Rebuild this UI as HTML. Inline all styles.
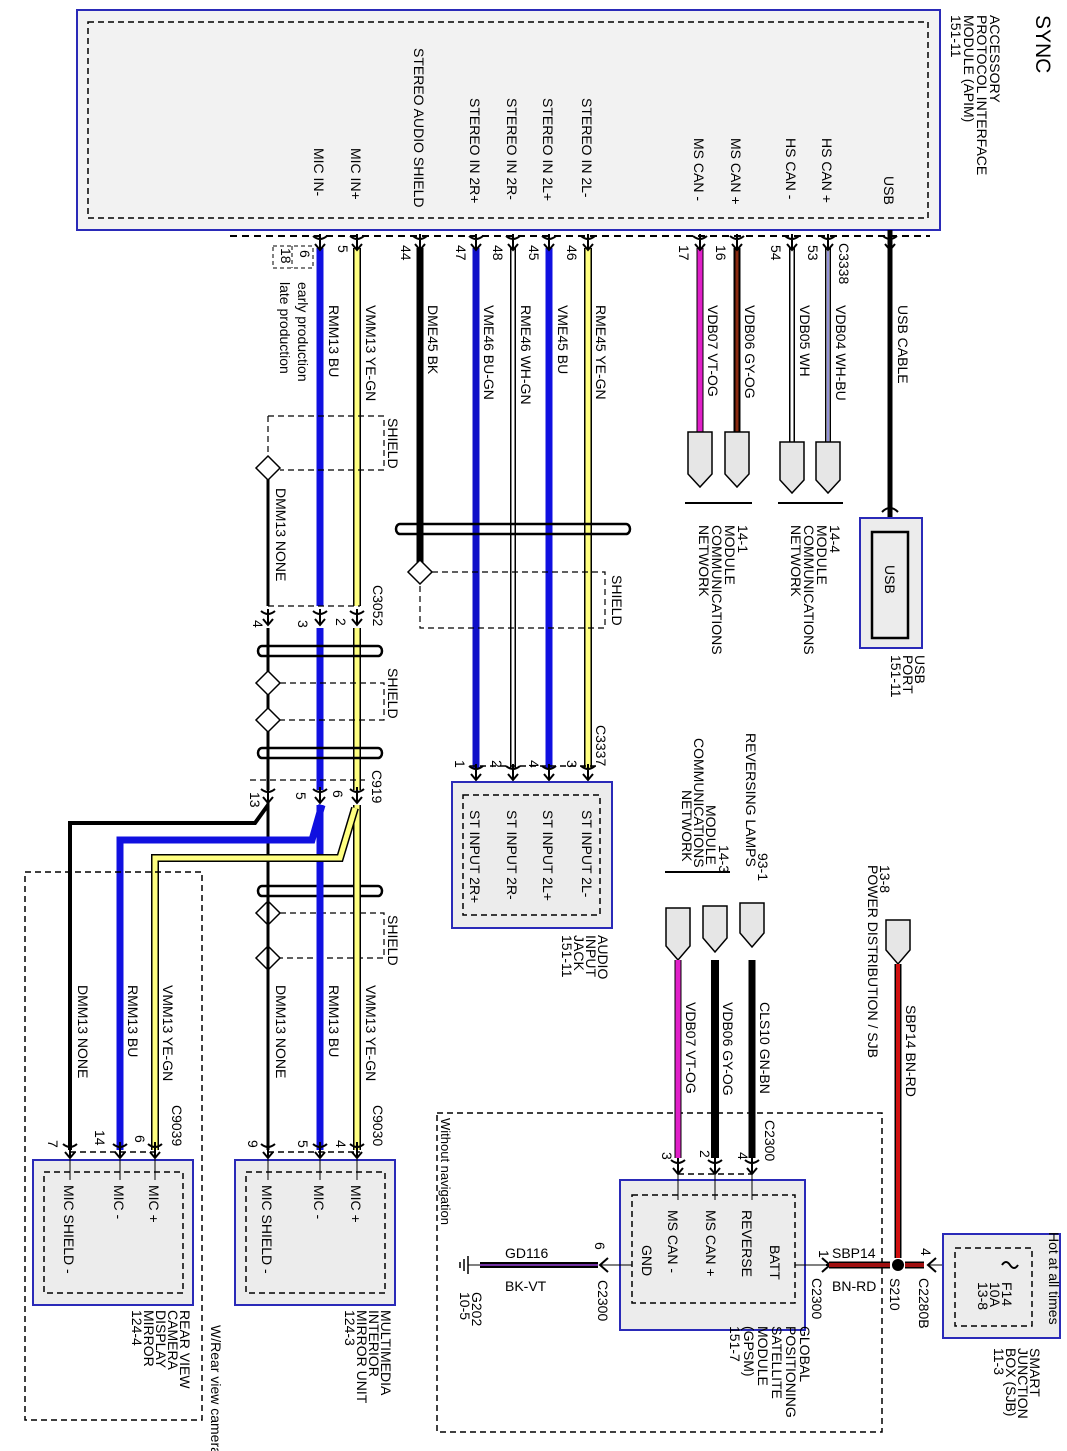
<!DOCTYPE html>
<html><head><meta charset="utf-8"><style>html,body{margin:0;padding:0;background:#fff}svg{display:block}</style></head><body>
<svg width="1067" height="1451" viewBox="0 0 1067 1451" xmlns="http://www.w3.org/2000/svg" font-family="Liberation Sans, sans-serif" font-size="14" fill="#000">
<defs>
<path id="fk" d="M-7,-6 Q0,0 7,-6 M0,-8 L0,8 M-5,2 L0,8 L5,2" fill="none" stroke="#000" stroke-width="2"/>
</defs>
<!-- APIM -->
<rect x="77" y="10" width="863" height="220" fill="#f2f2f2" stroke="#2a2ab8" stroke-width="2"/>
<rect x="88" y="22" width="840" height="196" fill="none" stroke="#000" stroke-width="1.5" stroke-dasharray="6,4"/>
<text font-size="21" transform="translate(1036,15) rotate(90)">SYNC</text>
<g font-size="14">
<text transform="translate(990,15) rotate(90)">ACCESSORY</text>
<text transform="translate(977,15) rotate(90)">PROTOCOL INTERFACE</text>
<text transform="translate(964,15) rotate(90)">MODULE (APIM)</text>
<text transform="translate(951,15) rotate(90)">151-11</text>
<text transform="translate(884,176) rotate(90)">USB</text>
<text transform="translate(822,138) rotate(90)">HS CAN +</text>
<text transform="translate(786,138) rotate(90)">HS CAN -</text>
<text transform="translate(731,138) rotate(90)">MS CAN +</text>
<text transform="translate(694,138) rotate(90)">MS CAN -</text>
<text transform="translate(582,98) rotate(90)">STEREO IN 2L-</text>
<text transform="translate(543,98) rotate(90)">STEREO IN 2L+</text>
<text transform="translate(507,98) rotate(90)">STEREO IN 2R-</text>
<text transform="translate(470,98) rotate(90)">STEREO IN 2R+</text>
<text transform="translate(414,48) rotate(90)">STEREO AUDIO SHIELD</text>
<text transform="translate(351,148) rotate(90)">MIC IN+</text>
<text transform="translate(314,148) rotate(90)">MIC IN-</text>
</g>
<line x1="230" y1="236" x2="930" y2="236" stroke="#000" stroke-width="2" stroke-dasharray="7,5"/>
<!-- wires top -->
<g fill="none">
<line x1="890" y1="230" x2="890" y2="518" stroke="#000" stroke-width="5"/>
<line x1="828" y1="248" x2="828" y2="442" stroke="#000" stroke-width="6"/><line x1="828" y1="248" x2="828" y2="442" stroke="#fff" stroke-width="3"/><line x1="828" y1="248" x2="828" y2="442" stroke="#2a2ab8" stroke-width="1"/>
<line x1="792" y1="248" x2="792" y2="442" stroke="#000" stroke-width="6"/><line x1="792" y1="248" x2="792" y2="442" stroke="#fff" stroke-width="3"/>
<line x1="737" y1="248" x2="737" y2="432" stroke="#000" stroke-width="7"/><line x1="737" y1="248" x2="737" y2="432" stroke="#8a2a10" stroke-width="3"/>
<line x1="700" y1="248" x2="700" y2="432" stroke="#000" stroke-width="7"/><line x1="700" y1="248" x2="700" y2="432" stroke="#e020c8" stroke-width="5"/>
<line x1="588" y1="248" x2="588" y2="768" stroke="#000" stroke-width="8"/><line x1="588" y1="248" x2="588" y2="768" stroke="#ffff80" stroke-width="5"/>
<line x1="549" y1="248" x2="549" y2="768" stroke="#1010e0" stroke-width="7"/>
<line x1="513" y1="248" x2="513" y2="768" stroke="#000" stroke-width="6"/><line x1="513" y1="248" x2="513" y2="768" stroke="#fff" stroke-width="3"/>
<line x1="476" y1="248" x2="476" y2="768" stroke="#1010c8" stroke-width="7"/>
<line x1="420" y1="248" x2="420" y2="566" stroke="#000" stroke-width="7"/>
<line x1="357" y1="248" x2="357" y2="606" stroke="#000" stroke-width="8"/><line x1="357" y1="248" x2="357" y2="606" stroke="#ffff80" stroke-width="5"/>
<line x1="320" y1="248" x2="320" y2="606" stroke="#1010e0" stroke-width="7"/>
<line x1="357" y1="628" x2="357" y2="790" stroke="#000" stroke-width="8"/><line x1="357" y1="628" x2="357" y2="790" stroke="#ffff80" stroke-width="5"/>
<line x1="320" y1="628" x2="320" y2="790" stroke="#1010e0" stroke-width="7"/>
<line x1="268" y1="474" x2="268" y2="606" stroke="#000" stroke-width="3"/>
<line x1="268" y1="628" x2="268" y2="790" stroke="#000" stroke-width="3"/>
</g>
<g>
<use href="#fk" x="890" y="242"/><use href="#fk" x="828" y="242"/><use href="#fk" x="792" y="242"/><use href="#fk" x="737" y="242"/><use href="#fk" x="700" y="242"/>
<use href="#fk" x="588" y="242"/><use href="#fk" x="549" y="242"/><use href="#fk" x="513" y="242"/><use href="#fk" x="476" y="242"/><use href="#fk" x="420" y="242"/><use href="#fk" x="357" y="242"/><use href="#fk" x="320" y="242"/>
</g>
<g font-size="14">
<text transform="translate(839,243) rotate(90)">C3338</text>
<text transform="translate(808,245) rotate(90)">53</text>
<text transform="translate(771,245) rotate(90)">54</text>
<text transform="translate(716,245) rotate(90)">16</text>
<text transform="translate(679,245) rotate(90)">17</text>
<text transform="translate(567,245) rotate(90)">46</text>
<text transform="translate(529,245) rotate(90)">45</text>
<text transform="translate(493,245) rotate(90)">48</text>
<text transform="translate(456,245) rotate(90)">47</text>
<text transform="translate(401,245) rotate(90)">44</text>
<text transform="translate(338,245) rotate(90)">5</text>
<text transform="translate(300,250) rotate(90)">6</text>
<text transform="translate(281,248) rotate(90)">18</text>
<text transform="translate(898,305) rotate(90)">USB CABLE</text>
<text transform="translate(836,305) rotate(90)">VDB04 WH-BU</text>
<text transform="translate(800,305) rotate(90)">VDB05 WH</text>
<text transform="translate(745,305) rotate(90)">VDB06 GY-OG</text>
<text transform="translate(708,305) rotate(90)">VDB07 VT-OG</text>
<text transform="translate(596,305) rotate(90)">RME45 YE-GN</text>
<text transform="translate(558,305) rotate(90)">VME45 BU</text>
<text transform="translate(521,305) rotate(90)">RME46 WH-GN</text>
<text transform="translate(484,305) rotate(90)">VME46 BU-GN</text>
<text transform="translate(428,305) rotate(90)">DME45 BK</text>
<text transform="translate(366,305) rotate(90)">VMM13 YE-GN</text>
<text transform="translate(329,305) rotate(90)">RMM13 BU</text>
<text transform="translate(298,282) rotate(90)">early production</text>
<text transform="translate(280,282) rotate(90)">late production</text>
</g>
<rect x="273" y="246" width="40" height="22" fill="none" stroke="#000" stroke-dasharray="4,3"/>
<line x1="292" y1="246" x2="292" y2="268" stroke="#000" stroke-dasharray="4,3"/>
<!-- network connectors -->
<g fill="#e6e6e6" stroke="#000" stroke-width="1.5">
<path d="M816,442 h24 v38 l-12,13 l-12,-13z"/><path d="M780,442 h24 v38 l-12,13 l-12,-13z"/>
<path d="M725,432 h24 v42 l-12,13 l-12,-13z"/><path d="M688,432 h24 v42 l-12,13 l-12,-13z"/>
</g>
<line x1="778" y1="503" x2="843" y2="503" stroke="#000" stroke-width="2"/>
<line x1="685" y1="503" x2="752" y2="503" stroke="#000" stroke-width="2"/>
<g font-size="14">
<text transform="translate(830,525) rotate(90)">14-4</text>
<text transform="translate(817,525) rotate(90)">MODULE</text>
<text transform="translate(804,525) rotate(90)">COMMUNICATIONS</text>
<text transform="translate(791,525) rotate(90)">NETWORK</text>
<text transform="translate(738,525) rotate(90)">14-1</text>
<text transform="translate(725,525) rotate(90)">MODULE</text>
<text transform="translate(712,525) rotate(90)">COMMUNICATIONS</text>
<text transform="translate(699,525) rotate(90)">NETWORK</text>
</g>
<!-- USB port -->
<rect x="860" y="518" width="62" height="130" fill="#ececec" stroke="#2a2ab8" stroke-width="2"/>
<rect x="872" y="532" width="36" height="106" fill="none" stroke="#000" stroke-width="2.5"/>
<path d="M882,512 Q890,504 898,512" fill="none" stroke="#000" stroke-width="2"/>
<text transform="translate(885,565) rotate(90)">USB</text>
<text transform="translate(915,655) rotate(90)">USB</text>
<text transform="translate(903,655) rotate(90)">PORT</text>
<text transform="translate(891,655) rotate(90)">151-11</text>
<!-- twist bands -->
<g fill="none" stroke="#000" stroke-width="2.5">
<path d="M400,524 h226 a4,5 0 0 1 0,10 h-226 a4,5 0 0 1 0,-10z"/>
<path d="M262,646 h116 a4,5 0 0 1 0,10 h-116 a4,5 0 0 1 0,-10z"/>
<path d="M262,748 h116 a4,5 0 0 1 0,10 h-116 a4,5 0 0 1 0,-10z"/>
<path d="M262,886 h116 a4,5 0 0 1 0,10 h-116 a4,5 0 0 1 0,-10z"/>
</g>
<!-- shields -->
<g fill="#fff" stroke="#000" stroke-width="1.5">
<path d="M420,560 l12,12 l-12,12 l-12,-12z"/>
<path d="M268,456 l12,12 l-12,12 l-12,-12z"/>
<path d="M268,671 l12,12 l-12,12 l-12,-12z"/>
<path d="M268,708 l12,12 l-12,12 l-12,-12z"/>
<path d="M268,901 l12,12 l-12,12 l-12,-12z"/>
<path d="M268,946 l12,12 l-12,12 l-12,-12z"/>
</g>
<g fill="none" stroke="#000" stroke-width="1.2" stroke-dasharray="6,4">
<path d="M432,572 H605 V628 H420 V584"/>
<path d="M268,416 H384 V470 H280"/><path d="M268,416 V456"/>
<path d="M280,683 H384 V720 H280"/><path d="M268,695 V708"/>
<path d="M280,913 H384 V958 H280"/><path d="M268,925 V946"/>
<line x1="268" y1="606" x2="360" y2="606"/>
<line x1="250" y1="780" x2="365" y2="780"/>
</g>
<g font-size="14">
<text transform="translate(612,575) rotate(90)">SHIELD</text>
<text transform="translate(388,418) rotate(90)">SHIELD</text>
<text transform="translate(388,668) rotate(90)">SHIELD</text>
<text transform="translate(388,915) rotate(90)">SHIELD</text>
<text transform="translate(276,488) rotate(90)">DMM13   NONE</text>
<text transform="translate(373,585) rotate(90)">C3052</text>
<text transform="translate(253,620) rotate(90)">4</text>
<text transform="translate(298,620) rotate(90)">3</text>
<text transform="translate(336,618) rotate(90)">2</text>
<text transform="translate(372,770) rotate(90)">C919</text>
<text transform="translate(250,792) rotate(90)">13</text>
<text transform="translate(296,792) rotate(90)">5</text>
<text transform="translate(333,790) rotate(90)">6</text>
</g>
<use href="#fk" x="268" y="617"/><use href="#fk" x="320" y="617"/><use href="#fk" x="357" y="617"/>
<use href="#fk" x="268" y="795"/><use href="#fk" x="320" y="795"/><use href="#fk" x="357" y="795"/>
<!-- stereo to audio jack -->
<g font-size="14">
<text transform="translate(596,725) rotate(90)">C3337</text>
<text transform="translate(567,760) rotate(90)">3</text>
<text transform="translate(529,760) rotate(90)">4</text>
<text transform="translate(492,760) rotate(90)">2</text>
<text transform="translate(455,760) rotate(90)">1</text>
</g>
<line x1="470" y1="766" x2="600" y2="766" stroke="#000" stroke-width="1.5" stroke-dasharray="6,4"/>
<use href="#fk" x="588" y="772"/><use href="#fk" x="549" y="772"/><use href="#fk" x="513" y="772"/><use href="#fk" x="476" y="772"/>
<rect x="452" y="782" width="160" height="146" fill="#ececec" stroke="#2a2ab8" stroke-width="2"/>
<rect x="463" y="795" width="137" height="120" fill="none" stroke="#000" stroke-width="1.5" stroke-dasharray="6,4"/>
<g font-size="14">
<text transform="translate(582,810) rotate(90)">ST INPUT 2L-</text>
<text transform="translate(543,810) rotate(90)">ST INPUT 2L+</text>
<text transform="translate(507,810) rotate(90)">ST INPUT 2R-</text>
<text transform="translate(470,810) rotate(90)">ST INPUT 2R+</text>
<text transform="translate(598,935) rotate(90)">AUDIO</text>
<text transform="translate(586,935) rotate(90)">INPUT</text>
<text transform="translate(574,935) rotate(90)">JACK</text>
<text transform="translate(562,935) rotate(90)">151-11</text>
</g>
<!-- after C919 -->
<g fill="none" stroke-linejoin="miter">
<path d="M268,802 V1150" stroke="#000" stroke-width="3"/>
<path d="M268,805 L255,823 H70 V1150" stroke="#000" stroke-width="4"/>
<path d="M320,805 V1150" stroke="#1010e0" stroke-width="7"/>
<path d="M322,805 L312,840 H120 V1150" stroke="#1010e0" stroke-width="7"/>
<path d="M357,805 V1150" stroke="#000" stroke-width="8"/><path d="M357,805 V1150" stroke="#ffff80" stroke-width="5"/>
<path d="M355,808 L340,858 H155 V1150" stroke="#000" stroke-width="8"/><path d="M355,808 L340,858 H155 V1150" stroke="#ffff80" stroke-width="5"/>
</g>
<g font-size="14">
<text transform="translate(366,985) rotate(90)">VMM13   YE-GN</text>
<text transform="translate(329,985) rotate(90)">RMM13   BU</text>
<text transform="translate(276,985) rotate(90)">DMM13   NONE</text>
<text transform="translate(373,1105) rotate(90)">C9030</text>
<text transform="translate(336,1140) rotate(90)">4</text>
<text transform="translate(298,1140) rotate(90)">5</text>
<text transform="translate(248,1140) rotate(90)">9</text>
<text transform="translate(163,985) rotate(90)">VMM13   YE-GN</text>
<text transform="translate(128,985) rotate(90)">RMM13   BU</text>
<text transform="translate(78,985) rotate(90)">DMM13   NONE</text>
<text transform="translate(172,1105) rotate(90)">C9039</text>
<text transform="translate(135,1135) rotate(90)">6</text>
<text transform="translate(95,1130) rotate(90)">14</text>
<text transform="translate(48,1140) rotate(90)">7</text>
</g>
<g fill="none" stroke="#000" stroke-width="1.5" stroke-dasharray="6,4">
<line x1="268" y1="1152" x2="360" y2="1152"/><line x1="70" y1="1152" x2="158" y2="1152"/>
<rect x="25" y="872" width="177" height="548"/>
</g>
<use href="#fk" x="268" y="1150"/><use href="#fk" x="320" y="1150"/><use href="#fk" x="357" y="1150"/>
<use href="#fk" x="70" y="1150"/><use href="#fk" x="120" y="1150"/><use href="#fk" x="155" y="1150"/>
<rect x="235" y="1160" width="160" height="145" fill="#ececec" stroke="#2a2ab8" stroke-width="2"/>
<rect x="246" y="1172" width="139" height="121" fill="none" stroke="#000" stroke-width="1.5" stroke-dasharray="6,4"/>
<rect x="33" y="1160" width="160" height="145" fill="#ececec" stroke="#2a2ab8" stroke-width="2"/>
<rect x="44" y="1172" width="139" height="121" fill="none" stroke="#000" stroke-width="1.5" stroke-dasharray="6,4"/>
<g stroke="#000" stroke-width="1"><line x1="268" y1="1158" x2="268" y2="1180"/><line x1="320" y1="1158" x2="320" y2="1180"/><line x1="357" y1="1158" x2="357" y2="1180"/><line x1="70" y1="1158" x2="70" y2="1180"/><line x1="120" y1="1158" x2="120" y2="1180"/><line x1="155" y1="1158" x2="155" y2="1180"/></g>
<g font-size="14">
<text transform="translate(351,1185) rotate(90)">MIC +</text>
<text transform="translate(314,1185) rotate(90)">MIC -</text>
<text transform="translate(262,1185) rotate(90)">MIC SHIELD -</text>
<text transform="translate(149,1185) rotate(90)">MIC +</text>
<text transform="translate(114,1185) rotate(90)">MIC -</text>
<text transform="translate(64,1185) rotate(90)">MIC SHIELD -</text>
<text transform="translate(381,1310) rotate(90)">MULTIMEDIA</text>
<text transform="translate(369,1310) rotate(90)">INTERIOR</text>
<text transform="translate(357,1310) rotate(90)">MIRROR UNIT</text>
<text transform="translate(345,1310) rotate(90)">124-3</text>
<text transform="translate(180,1310) rotate(90)">REAR VIEW</text>
<text transform="translate(168,1310) rotate(90)">CAMERA</text>
<text transform="translate(156,1310) rotate(90)">DISPLAY</text>
<text transform="translate(144,1310) rotate(90)">MIRROR</text>
<text transform="translate(132,1310) rotate(90)">124-4</text>
<text transform="translate(211,1325) rotate(90)">W/Rear view camera</text>
</g>
<!-- GPSM area -->
<rect x="437" y="1113" width="445" height="319" fill="none" stroke="#000" stroke-width="1.5" stroke-dasharray="6,4"/>
<text transform="translate(441,1118) rotate(90)" font-size="13">Without navigation</text>
<g fill="#e6e6e6" stroke="#000" stroke-width="1.5">
<path d="M740,903 h24 v30 l-12,14 l-12,-14z"/>
<path d="M703,906 h24 v32 l-12,14 l-12,-14z"/>
<path d="M666,908 h24 v38 l-12,14 l-12,-14z"/>
<path d="M886,920 h24 v30 l-12,14 l-12,-14z"/>
</g>
<line x1="665" y1="872" x2="730" y2="872" stroke="#000" stroke-width="2"/>
<g font-size="14">
<text transform="translate(758,853) rotate(90)">93-1</text>
<text transform="translate(746,733) rotate(90)">REVERSING LAMPS</text>
<text transform="translate(719,845) rotate(90)">14-3</text>
<text transform="translate(706,805) rotate(90)">MODULE</text>
<text transform="translate(694,738) rotate(90)">COMMUNICATIONS</text>
<text transform="translate(682,790) rotate(90)">NETWORK</text>
<text transform="translate(880,865) rotate(90)">13-8</text>
<text transform="translate(868,865) rotate(90)">POWER DISTRIBUTION / SJB</text>
</g>
<g fill="none">
<line x1="752" y1="960" x2="752" y2="1158" stroke="#000" stroke-width="7"/>
<line x1="715" y1="960" x2="715" y2="1158" stroke="#000" stroke-width="8"/>
<line x1="678" y1="960" x2="678" y2="1158" stroke="#000" stroke-width="7"/><line x1="678" y1="960" x2="678" y2="1158" stroke="#e020c8" stroke-width="5"/>
<line x1="898" y1="964" x2="898" y2="1258" stroke="#000" stroke-width="7"/><line x1="898" y1="964" x2="898" y2="1258" stroke="#d01010" stroke-width="4"/>
</g>
<g font-size="14">
<text transform="translate(760,1002) rotate(90)">CLS10  GN-BN</text>
<text transform="translate(723,1002) rotate(90)">VDB06  GY-OG</text>
<text transform="translate(686,1002) rotate(90)">VDB07  VT-OG</text>
<text transform="translate(906,1005) rotate(90)">SBP14  BN-RD</text>
<text transform="translate(765,1120) rotate(90)">C2300</text>
<text transform="translate(738,1152) rotate(90)">4</text>
<text transform="translate(700,1150) rotate(90)">2</text>
<text transform="translate(662,1152) rotate(90)">3</text>
</g>
<line x1="678" y1="1174" x2="752" y2="1174" stroke="#000" stroke-width="1.5" stroke-dasharray="6,4"/>
<use href="#fk" x="752" y="1166"/><use href="#fk" x="715" y="1166"/><use href="#fk" x="678" y="1166"/>
<rect x="620" y="1180" width="185" height="150" fill="#ececec" stroke="#2a2ab8" stroke-width="2"/>
<rect x="632" y="1195" width="163" height="108" fill="none" stroke="#000" stroke-width="1.5" stroke-dasharray="6,4"/>
<g stroke="#000" stroke-width="1"><line x1="752" y1="1174" x2="752" y2="1200"/><line x1="715" y1="1174" x2="715" y2="1200"/><line x1="678" y1="1174" x2="678" y2="1200"/></g>
<g font-size="14">
<text transform="translate(770,1245) rotate(90)">BATT</text>
<text transform="translate(742,1210) rotate(90)">REVERSE</text>
<text transform="translate(706,1210) rotate(90)">MS CAN +</text>
<text transform="translate(668,1210) rotate(90)">MS CAN -</text>
<text transform="translate(642,1245) rotate(90)">GND</text>
<text transform="translate(800,1326) rotate(90)">GLOBAL</text>
<text transform="translate(786,1326) rotate(90)">POSITIONING</text>
<text transform="translate(772,1326) rotate(90)">SATELLITE</text>
<text transform="translate(758,1326) rotate(90)">MODULE</text>
<text transform="translate(744,1326) rotate(90)">(GPSM)</text>
<text transform="translate(730,1326) rotate(90)">151-7</text>
</g>
<!-- BATT / S210 -->
<line x1="795" y1="1265" x2="830" y2="1265" stroke="#000" stroke-width="1"/>
<path d="M822,1258 L830,1265 L822,1272 M830,1265 L826,1265" fill="none" stroke="#000" stroke-width="2"/>
<line x1="829" y1="1265" x2="890" y2="1265" stroke="#000" stroke-width="7"/><line x1="829" y1="1265" x2="890" y2="1265" stroke="#a01010" stroke-width="4"/>
<line x1="905" y1="1265" x2="924" y2="1265" stroke="#000" stroke-width="7"/><line x1="905" y1="1265" x2="924" y2="1265" stroke="#a01010" stroke-width="4"/>
<circle cx="898" cy="1265" r="6" fill="#000"/>
<path d="M936,1258 L928,1265 L936,1272" fill="none" stroke="#000" stroke-width="2"/>
<line x1="928" y1="1265" x2="1043" y2="1265" stroke="#000" stroke-width="1"/>
<g font-size="14">
<text transform="translate(819,1250) rotate(90)">1</text>
<text transform="translate(812,1278) rotate(90)">C2300</text>
<text x="832" y="1258" font-size="14">SBP14</text>
<text x="832" y="1291" font-size="14">BN-RD</text>
<text transform="translate(890,1278) rotate(90)">S210</text>
<text transform="translate(921,1248) rotate(90)">4</text>
<text transform="translate(919,1278) rotate(90)">C2280B</text>
</g>
<rect x="943" y="1234" width="117" height="104" fill="#ececec" stroke="#2a2ab8" stroke-width="2"/>
<rect x="955" y="1248" width="77" height="78" fill="none" stroke="#000" stroke-width="1.5" stroke-dasharray="6,4"/>
<path d="M1002,1265 q4,-6 8,0 q4,6 8,0" fill="none" stroke="#000" stroke-width="2"/>
<g font-size="14">
<text transform="translate(1002,1282) rotate(90)">F14</text>
<text transform="translate(990,1282) rotate(90)">10A</text>
<text transform="translate(978,1282) rotate(90)">13-8</text>
<text transform="translate(1049,1232) rotate(90)">Hot at all times</text>
<text transform="translate(1030,1348) rotate(90)">SMART</text>
<text transform="translate(1018,1348) rotate(90)">JUNCTION</text>
<text transform="translate(1006,1348) rotate(90)">BOX (SJB)</text>
<text transform="translate(994,1348) rotate(90)">11-3</text>
</g>
<!-- GND -->
<line x1="600" y1="1265" x2="632" y2="1265" stroke="#000" stroke-width="1"/>
<path d="M608,1258 L600,1265 L608,1272" fill="none" stroke="#000" stroke-width="2"/>
<line x1="480" y1="1265" x2="598" y2="1265" stroke="#000" stroke-width="6"/><line x1="480" y1="1265" x2="598" y2="1265" stroke="#7030a0" stroke-width="2"/>
<line x1="468" y1="1265" x2="480" y2="1265" stroke="#000" stroke-width="1"/>
<g stroke="#000" stroke-width="1.5"><line x1="468" y1="1256" x2="468" y2="1274"/><line x1="464" y1="1259" x2="464" y2="1271"/><line x1="460" y1="1262" x2="460" y2="1268"/></g>
<g font-size="14">
<text transform="translate(595,1242) rotate(90)">6</text>
<text transform="translate(598,1280) rotate(90)">C2300</text>
<text x="505" y="1258" font-size="14">GD116</text>
<text x="505" y="1291" font-size="14">BK-VT</text>
<text transform="translate(472,1292) rotate(90)">G202</text>
<text transform="translate(460,1292) rotate(90)">10-5</text>
</g>
</svg>
</body></html>
